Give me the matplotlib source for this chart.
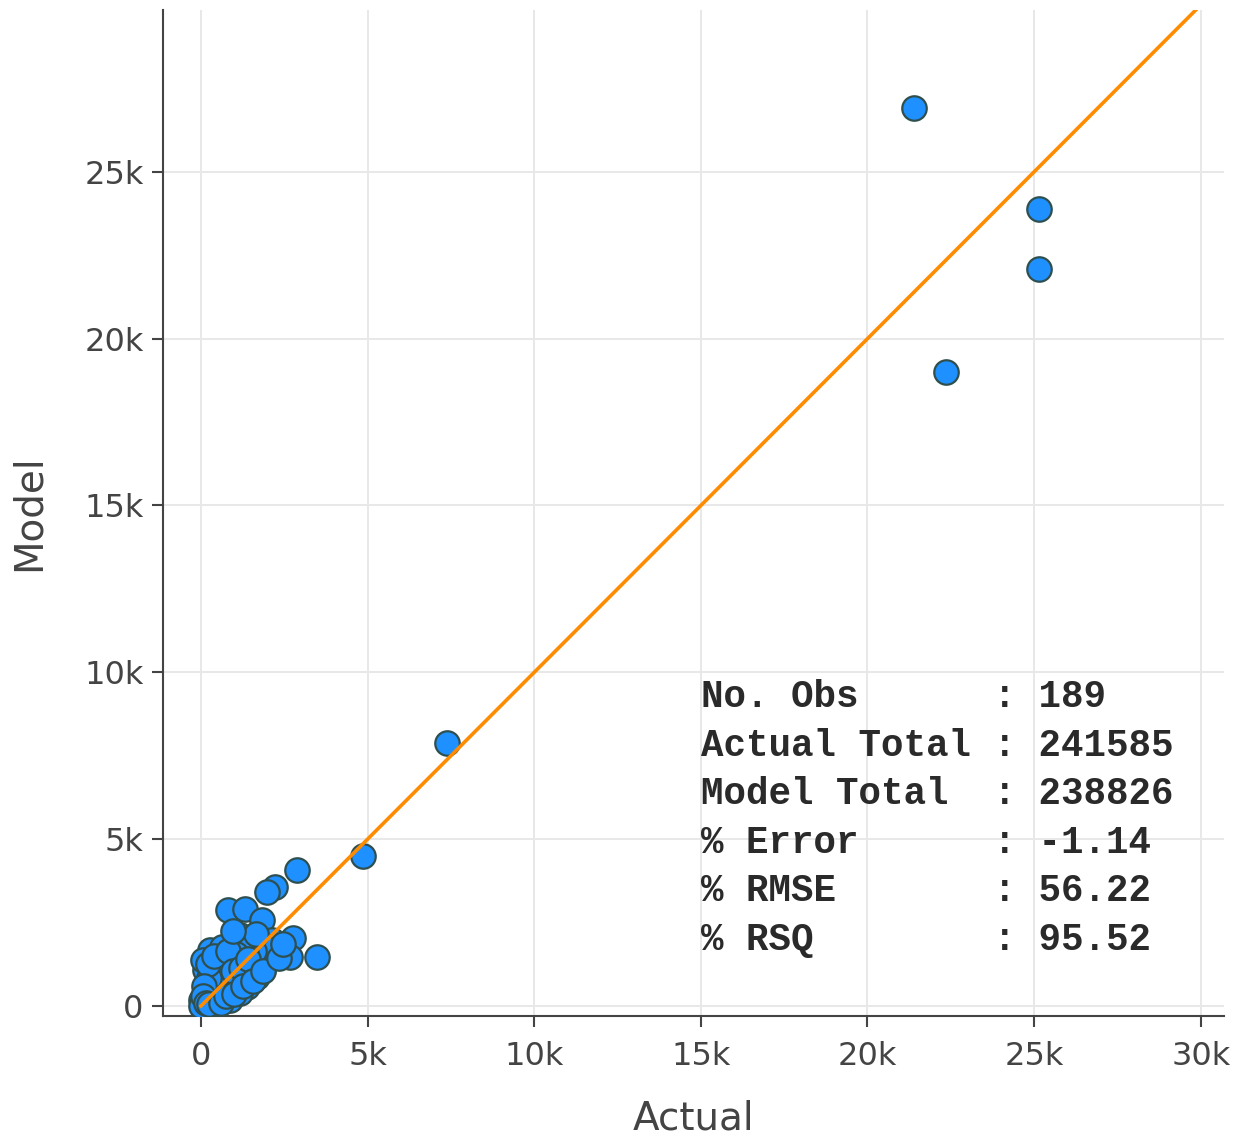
import matplotlib.pyplot as plt
from matplotlib.ticker import FuncFormatter

# Actual vs Model values
actual = [21400, 25150, 25150, 22350, 7380, 4850, 2870, 2220, 1990, 820,
          1320, 1820, 2770, 3470, 2670, 2120, 1170, 970, 270, 620,
          1070, 1670, 2270, 1470, 120, 470, 1370, 1670, 770, 170,
          0, 0, 370, 870, 1170, 1470, 1870, 570, 70,
          300, 500, 650, 900, 1100, 1300, 1500, 1750, 1950, 2050,
          1850, 1600, 1350, 1250, 1050, 850, 700, 550, 400, 250,
          200, 400, 800, 950, 1200, 1400, 100, 50, 150, 250,
          600, 750, 1000, 1250, 1550, 1850, 2350, 2450, 1650, 950]
model = [26900, 23900, 22100, 19000, 7880, 4500, 4080, 3580, 3410, 2880,
         2900, 2580, 2030, 1480, 1480, 1980, 2130, 1830, 1680, 1780,
         1280, 1380, 1680, 1880, 1080, 980, 580, 880, 680, 480,
         180, 0, 80, 180, 380, 1080, 1080, 1380, 1380,
         300, 250, 450, 500, 700, 950, 1250, 1100, 1350, 1600,
         1800, 1650, 1600, 1950, 1550, 1250, 1000, 800, 600, 850,
         1250, 1500, 1650, 1050, 1150, 1400, 600, 300, 100, 50,
         100, 300, 350, 600, 750, 1050, 1450, 1850, 2150, 2250]

line_x = [0, 30000]
line_y = [0, 30000]

stats_labels = ['No. Obs', 'Actual Total', 'Model Total', '% Error', '% RMSE', '% RSQ']
stats_values = ['189', '241585', '238826', '-1.14', '56.22', '95.52']

fig = plt.figure(figsize=(12.47, 11.4), dpi=100)
ax = fig.add_axes([0.1307, 0.1088, 0.8509, 0.8824])

ax.scatter(actual, model, s=310, color='#1e90ff', edgecolors='#2f4f4f',
           linewidths=1.6, zorder=3)
ax.plot(line_x, line_y, color='#ff8c00', linewidth=2.6, zorder=4)

ax.set_xlim(-1140, 30700)
ax.set_ylim(-300, 29850)
ax.set_xticks([0, 5000, 10000, 15000, 20000, 25000, 30000])
ax.set_yticks([0, 5000, 10000, 15000, 20000, 25000])
kfmt = FuncFormatter(lambda v, p: '0' if v == 0 else '%dk' % (v / 1000))
ax.xaxis.set_major_formatter(kfmt)
ax.yaxis.set_major_formatter(kfmt)

ax.grid(True, color='#e8e8e8', linewidth=1.4)
ax.set_axisbelow(True)
for side in ['top', 'right']:
    ax.spines[side].set_visible(False)
for side in ['left', 'bottom']:
    ax.spines[side].set_color('#444444')
    ax.spines[side].set_linewidth(1.5)
ax.tick_params(colors='#444444', labelsize=23, length=8, width=1.5, pad=6)
ax.tick_params(axis='x', pad=10)

ax.set_xlabel('Actual', fontsize=28, color='#444444', labelpad=20)
ax.set_ylabel('Model', fontsize=28, color='#444444', labelpad=26)

# stats block, one line at a time
for i, (lab, val) in enumerate(zip(stats_labels, stats_values)):
    ax.text(15000, 8960 - i * 1457, '%-12s : %s' % (lab, val),
            family='Liberation Mono', fontweight='bold', fontsize=27,
            color='#2a2a2a', va='baseline', ha='left', zorder=5)

plt.savefig('out.png', dpi=100)
